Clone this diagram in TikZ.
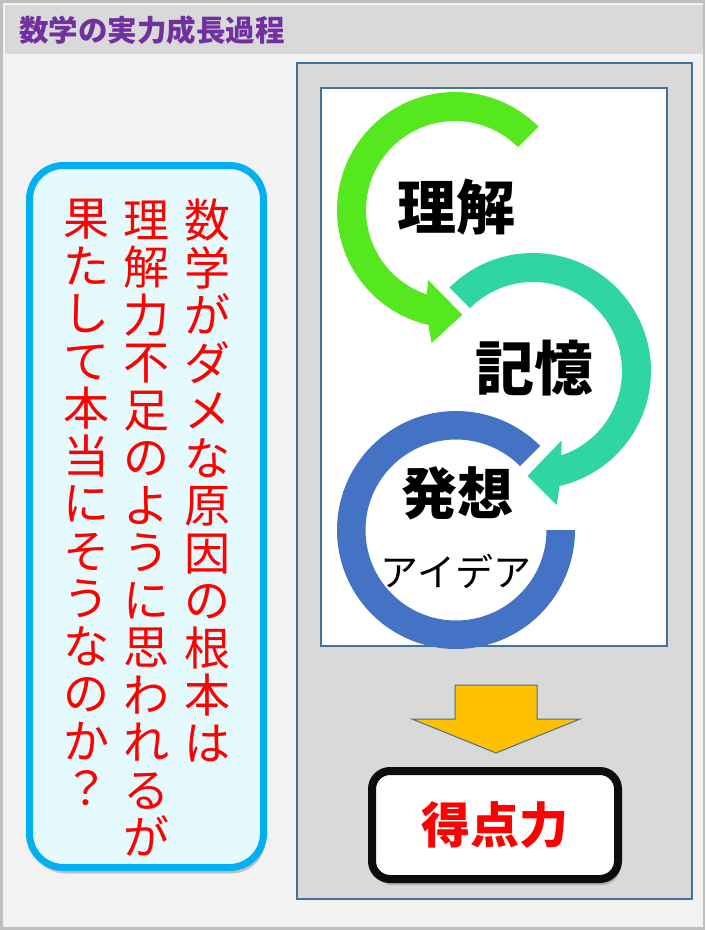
\documentclass[tikz,border=0pt]{standalone}
\usepackage{fontspec}
\usetikzlibrary{shadows}
\newfontfamily\jp{Noto Sans CJK JP}
\definecolor{bgfill}{HTML}{F2F2F2}
\definecolor{bgline}{HTML}{BFBFBF}
\definecolor{hdrfill}{HTML}{D9D9D9}
\definecolor{titlecol}{HTML}{7030A0}
\definecolor{panelline}{HTML}{41719C}
\definecolor{ringgreen}{HTML}{55E81E}
\definecolor{ringteal}{HTML}{2FD6A3}
\definecolor{ringblue}{HTML}{4472C4}
\definecolor{arrowyellow}{HTML}{FFC000}
\definecolor{qfill}{HTML}{E5FAFD}
\definecolor{qline}{HTML}{00B0F0}
\definecolor{scoreline}{HTML}{0D0D0D}
\tikzset{
  vcol/.style={anchor=north, align=center, inner sep=0pt, text=red,
    font=\jp\fontsize{46}{47.5}\selectfont},
  ringlabel/.style={inner sep=0pt, text=black, font=\jp\bfseries\fontsize{59}{59}\selectfont},
  panelbox/.style={draw=panelline, line width=1.5pt},
  softshadow/.style={drop shadow={shadow xshift=2pt, shadow yshift=-6pt, opacity=0.35, fill=black!60}}
}
\begin{document}
\begin{tikzpicture}[x=1pt,y=-1pt]
\useasboundingbox (0,0) rectangle (705,930);
% background and frame
\fill[bgline] (0,0) rectangle (705,930);
\fill[bgfill] (2.5,2.5) rectangle (703,927);
% header
\fill[hdrfill] (5,5) rectangle (703,54);
\node[anchor=west, inner sep=0pt, text=titlecol, font=\jp\bfseries\fontsize{29.5}{29.5}\selectfont] (title) at (19,30) {数学の実力成長過程};
% right panel
\path[panelbox, fill=hdrfill] (297,63) rectangle (692,899);
\path[panelbox, fill=white] (321,88) rectangle (667,646);
% green circular arrow
\begin{scope}[shift={(455,210)}]
\fill[ringgreen] (45:118pt) arc[start angle=45, end angle=257, radius=118pt]
  -- (260:135pt) -- (274:105pt) -- (249:75pt) -- (251.5:89pt)
  arc[start angle=251.5, end angle=45, radius=89pt] -- cycle;
\end{scope}
% teal circular arrow
\begin{scope}[shift={(533,371)}]
\fill[ringteal] (135:118pt) arc[start angle=135, end angle=-77, radius=118pt]
  -- (-80:136pt) -- (-93:105pt) -- (-67.5:75pt) -- (-71.5:89pt)
  arc[start angle=-71.5, end angle=135, radius=89pt] -- cycle;
\end{scope}
% blue ring
\begin{scope}[shift={(456,530)}]
\fill[ringblue] (45:119pt) arc[start angle=45, end angle=360, radius=119pt]
  -- (0:90.5pt) arc[start angle=360, end angle=45, radius=90.5pt] -- cycle;
\end{scope}
\node[ringlabel] (rikai) at (456,207) {理解};
\node[ringlabel] (kioku) at (534,368) {記憶};
\node[ringlabel, font=\jp\bfseries\fontsize{56}{56}\selectfont] (hasso) at (457,493) {発想};
\node[inner sep=0pt, font=\jp\fontsize{38}{38}\selectfont] (idea) at (456,571) {アイデア};
% yellow down arrow
\filldraw[fill=arrowyellow, draw=panelline, line width=1pt]
  (455,685) -- (537,685) -- (537,719) -- (580,719) -- (496,753) -- (412,719) -- (455,719) -- cycle;
% score box
\node[draw=scoreline, line width=8pt, fill=white, rounded corners=18pt, softshadow,
  minimum width=246pt, minimum height=108pt, inner sep=0pt,
  text=red, font=\jp\bfseries\fontsize{49}{49}\selectfont] (score) at (495,825) {得点力};
% question box
\node[draw=qline, line width=7pt, fill=qfill, rounded corners=34pt, softshadow,
  minimum width=234pt, minimum height=702pt, inner sep=0pt] (qbox) at (146.5,516.5) {};
\node[vcol] (col1) at (207.5,199) {数\\学\\が\\ダ\\メ\\な\\原\\因\\の\\根\\本\\は};
\node[vcol] (col2) at (146.7,200.5) {理\\解\\力\\不\\足\\の\\よ\\う\\に\\思\\わ\\れ\\る\\が};
\node[vcol] (col3) at (86,199) {果\\た\\し\\て\\本\\当\\に\\そ\\う\\な\\の\\か\\？};
\end{tikzpicture}
\end{document}
